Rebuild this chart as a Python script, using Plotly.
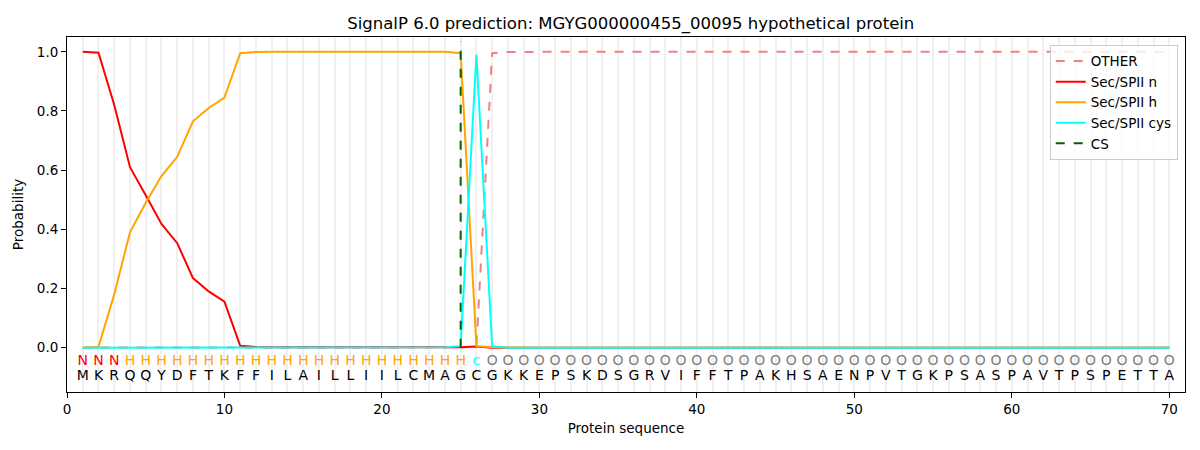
import plotly.graph_objects as go

# Protein sequence and per-residue predicted labels
sequence = list("MKRQQYDFTKFFILAILLIILCMAGCGKKEPSKDSGRVIFFTPAKHSAENPVTGKPSASPAVTPSPETTA")
region_labels = list("NNNHHHHHHHHHHHHHHHHHHHHHHcOOOOOOOOOOOOOOOOOOOOOOOOOOOOOOOOOOOOOOOOOOOO")
positions = list(range(1, 71))

# Probabilities
other = [0.0, 0.0, 0.0, 0.0, 0.0, 0.0, 0.0, 0.0, 0.0, 0.0,
         0.0, 0.0, 0.0, 0.0, 0.0, 0.0, 0.0, 0.0, 0.0, 0.0,
         0.0, 0.0, 0.0, 0.0, 0.001, 0.003, 0.995, 0.999, 1.0, 1.0,
         1.0, 1.0, 1.0, 1.0, 1.0, 1.0, 1.0, 1.0, 1.0, 1.0,
         1.0, 1.0, 1.0, 1.0, 1.0, 1.0, 1.0, 1.0, 1.0, 1.0,
         1.0, 1.0, 1.0, 1.0, 1.0, 1.0, 1.0, 1.0, 1.0, 1.0,
         1.0, 1.0, 1.0, 1.0, 1.0, 1.0, 1.0, 1.0, 1.0, 1.0]
sec_n = [1.0, 0.997, 0.82, 0.61, 0.515, 0.418, 0.353, 0.235, 0.19, 0.155,
         0.006, 0.002, 0.001, 0.001, 0.001, 0.001, 0.001, 0.001, 0.001, 0.001,
         0.001, 0.001, 0.001, 0.001, 0.001, 0.004, 0.0, 0.0, 0.0, 0.0,
         0.0, 0.0, 0.0, 0.0, 0.0, 0.0, 0.0, 0.0, 0.0, 0.0,
         0.0, 0.0, 0.0, 0.0, 0.0, 0.0, 0.0, 0.0, 0.0, 0.0,
         0.0, 0.0, 0.0, 0.0, 0.0, 0.0, 0.0, 0.0, 0.0, 0.0,
         0.0, 0.0, 0.0, 0.0, 0.0, 0.0, 0.0, 0.0, 0.0, 0.0]
sec_h = [0.0, 0.003, 0.18, 0.39, 0.49, 0.58, 0.645, 0.765, 0.81, 0.845,
         0.995, 0.999, 1.0, 1.0, 1.0, 1.0, 1.0, 1.0, 1.0, 1.0,
         1.0, 1.0, 1.0, 1.0, 0.995, 0.005, 0.001, 0.0, 0.0, 0.0,
         0.0, 0.0, 0.0, 0.0, 0.0, 0.0, 0.0, 0.0, 0.0, 0.0,
         0.0, 0.0, 0.0, 0.0, 0.0, 0.0, 0.0, 0.0, 0.0, 0.0,
         0.0, 0.0, 0.0, 0.0, 0.0, 0.0, 0.0, 0.0, 0.0, 0.0,
         0.0, 0.0, 0.0, 0.0, 0.0, 0.0, 0.0, 0.0, 0.0, 0.0]
sec_cys = [0.0, 0.0, 0.0, 0.0, 0.0, 0.0, 0.0, 0.0, 0.0, 0.0,
           0.0, 0.0, 0.0, 0.0, 0.0, 0.0, 0.0, 0.0, 0.0, 0.0,
           0.0, 0.0, 0.0, 0.001, 0.005, 0.99, 0.005, 0.0, 0.0, 0.0,
           0.0, 0.0, 0.0, 0.0, 0.0, 0.0, 0.0, 0.0, 0.0, 0.0,
           0.0, 0.0, 0.0, 0.0, 0.0, 0.0, 0.0, 0.0, 0.0, 0.0,
           0.0, 0.0, 0.0, 0.0, 0.0, 0.0, 0.0, 0.0, 0.0, 0.0,
           0.0, 0.0, 0.0, 0.0, 0.0, 0.0, 0.0, 0.0, 0.0, 0.0]
cs_position = 25
cs_span = [0.0, 1.035]

label_colors = {"N": "red", "H": "orange", "c": "cyan", "O": "grey"}
font = "DejaVu Sans, Liberation Sans, sans-serif"

fig = go.Figure()

fig.add_trace(go.Scatter(x=positions, y=other, mode="lines", name="OTHER",
                         line=dict(color="rgba(240,128,128,1)", width=2, dash="dash")))
fig.add_trace(go.Scatter(x=positions, y=sec_n, mode="lines", name="Sec/SPII n",
                         line=dict(color="red", width=2)))
fig.add_trace(go.Scatter(x=positions, y=sec_h, mode="lines", name="Sec/SPII h",
                         line=dict(color="orange", width=2)))
fig.add_trace(go.Scatter(x=positions, y=sec_cys, mode="lines", name="Sec/SPII cys",
                         line=dict(color="cyan", width=2)))
fig.add_trace(go.Scatter(x=[cs_position, cs_position], y=cs_span, mode="lines", name="CS",
                         line=dict(color="darkgreen", width=2, dash="dash")))

# letters under the curves
fig.add_trace(go.Scatter(x=positions, y=[-0.048] * len(positions), mode="text",
                         text=region_labels, showlegend=False, hoverinfo="skip",
                         textfont=dict(family=font, size=14,
                                       color=[label_colors[c] for c in region_labels])))
fig.add_trace(go.Scatter(x=positions, y=[-0.099] * len(positions), mode="text",
                         text=sequence, showlegend=False, hoverinfo="skip",
                         textfont=dict(family=font, size=14, color="black")))

# page body has an 8px margin, so the figure is a bit smaller than the window
fig.update_layout(
    width=1192, height=442,
    margin=dict(l=59, r=15, t=29, b=58),
    paper_bgcolor="white", plot_bgcolor="white",
    font=dict(family=font, size=13.5, color="black"),
    title=dict(text="SignalP 6.0 prediction: MGYG000000455_00095 hypothetical protein",
               x=0.5225, xanchor="center", y=0.966, yanchor="middle",
               font=dict(size=16.5)),
    legend=dict(x=0.9935, y=0.978, xanchor="right", yanchor="top",
                bgcolor="rgba(255,255,255,0.8)", bordercolor="#cccccc", borderwidth=1,
                font=dict(size=13.5), tracegroupgap=0),
    showlegend=True,
)
fig.update_xaxes(range=[0, 71], tickmode="linear", tick0=0, dtick=10, automargin=False,
                 showgrid=True, gridcolor="#f0f0f0", gridwidth=1.5,
                 minor=dict(tickmode="linear", tick0=0, dtick=1, showgrid=True,
                            gridcolor="#f0f0f0", gridwidth=1.5),
                 showline=True, linecolor="black", linewidth=1, mirror=True,
                 ticks="outside", ticklen=5, tickcolor="black", zeroline=False,
                 title=dict(text="Protein sequence", standoff=7, font=dict(size=13.5)))
fig.update_yaxes(range=[-0.15, 1.05], tickmode="linear", tick0=0, dtick=0.2, automargin=False,
                 tickformat=".1f", showgrid=False, zeroline=False,
                 showline=True, linecolor="black", linewidth=1, mirror=True,
                 ticks="outside", ticklen=5, tickcolor="black",
                 title=dict(text="Probability", standoff=10, font=dict(size=13.5)))

fig.write_html("out.html")
